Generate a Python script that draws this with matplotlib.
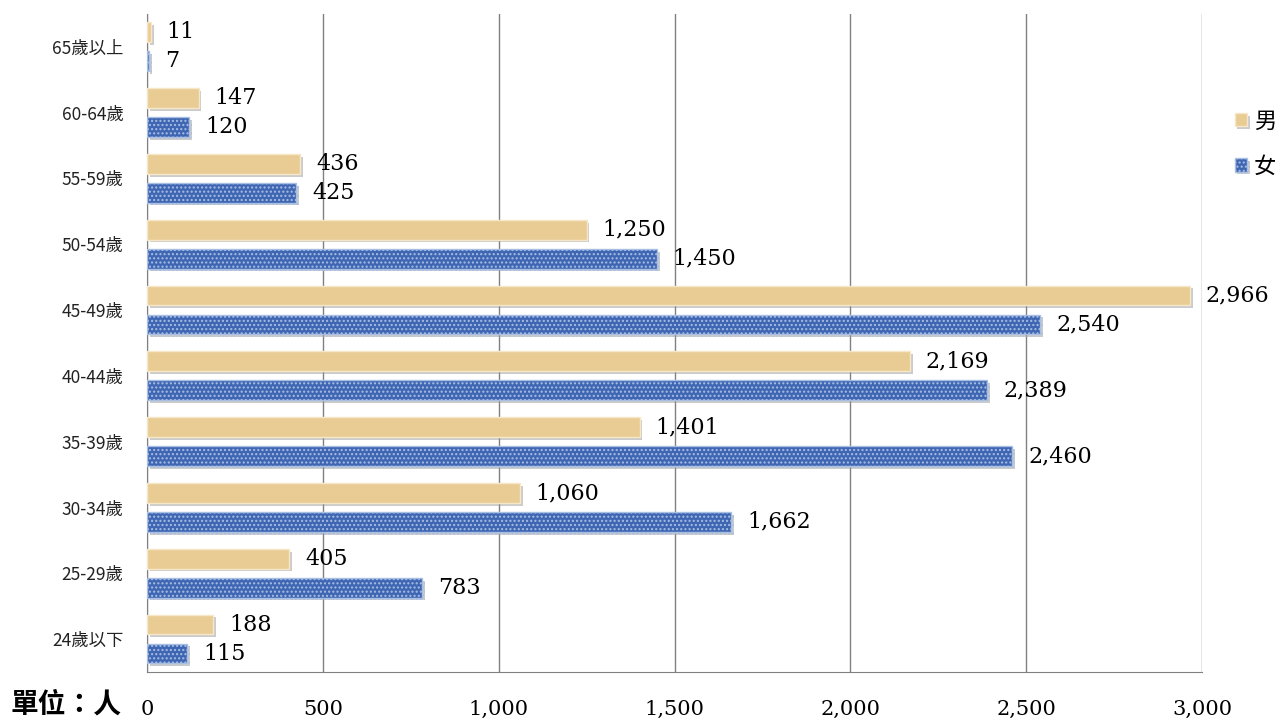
import matplotlib.pyplot as plt
import matplotlib.patheffects as pe
import numpy as np

plt.rcParams['font.family'] = ['Noto Sans CJK TC', 'DejaVu Sans']

# data (bottom to top)
ages = ['24歲以下', '25-29歲', '30-34歲', '35-39歲', '40-44歲',
        '45-49歲', '50-54歲', '55-59歲', '60-64歲', '65歲以上']
male = [188, 405, 1060, 1401, 2169, 2966, 1250, 436, 147, 11]
female = [115, 783, 1662, 2460, 2389, 2540, 1450, 425, 120, 7]
xticks = [0, 500, 1000, 1500, 2000, 2500, 3000]

fig = plt.figure(figsize=(12.86, 7.28), dpi=100)
ax = fig.add_axes([0.1143, 0.077, 0.8204, 0.904])

y = np.arange(len(ages))
h = 0.3
off = 0.22
shadow = [pe.SimplePatchShadow(offset=(2, -2), shadow_rgbFace='#999999', alpha=0.5), pe.Normal()]

ax.barh(y + off, male, height=h, color='#E9CC93', edgecolor='#F6E7C8', linewidth=1,
        label='男', zorder=3, path_effects=shadow)
ax.barh(y - off, female, height=h, color='#3E66B3', edgecolor='#A9BEE3', linewidth=1,
        hatch='....', label='女', zorder=3, path_effects=shadow)

serif = 'DejaVu Serif'
for yy, v in zip(y + off, male):
    ax.text(v + 45, yy, f'{v:,}', va='center', ha='left', fontsize=16, family=serif, zorder=4)
for yy, v in zip(y - off, female):
    ax.text(v + 45, yy, f'{v:,}', va='center', ha='left', fontsize=16, family=serif, zorder=4)

ax.set_xlim(0, 3000)
ax.set_ylim(-0.5, len(ages) - 0.5)
ax.set_xticks(xticks)
ax.set_xticklabels([f'{t:,}' for t in xticks], family=serif, fontsize=15)
ax.set_yticks(y)
ax.set_yticklabels(ages, fontsize=12.5, color='#222222')
ax.tick_params(axis='both', length=0)
ax.tick_params(axis='x', pad=20)
ax.tick_params(axis='y', pad=17)
ax.grid(axis='x', color='#808080', linewidth=1, zorder=0)
for s in ['top', 'right']:
    ax.spines[s].set_visible(False)
ax.spines['left'].set_color('#808080')
ax.spines['bottom'].set_color('#808080')

fig.text(0.008, 0.032, '單位：人', fontsize=20, fontweight='bold', va='center', ha='left')

leg = ax.legend(loc='upper left', bbox_to_anchor=(1.012, 0.885), frameon=False,
                fontsize=16, handlelength=0.55, handleheight=0.55, handletextpad=0.3,
                labelspacing=1.0)

fig.savefig('out.png', dpi=100)
